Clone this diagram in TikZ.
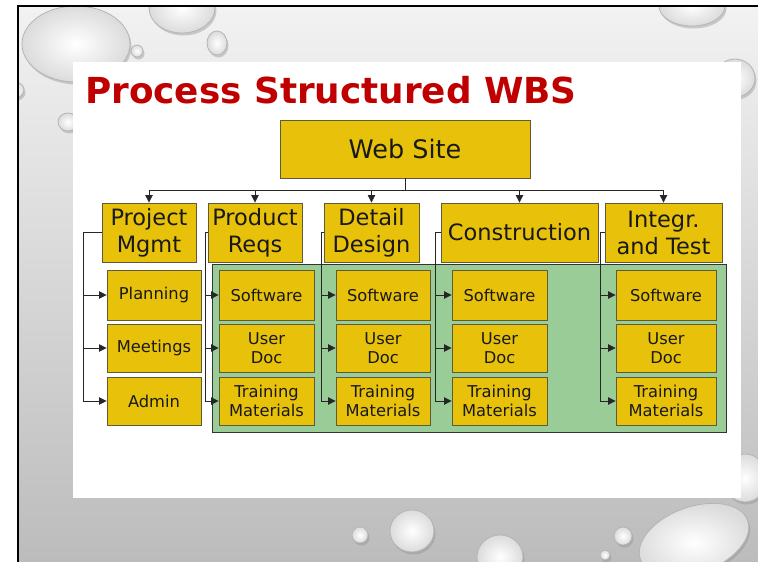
\documentclass[tikz,border=0pt]{standalone}
\usepackage{fontspec}
\setmainfont{DejaVu Sans}
\usetikzlibrary{arrows.meta}
\definecolor{boxyellow}{RGB}{232,194,10}
\definecolor{boxedge}{RGB}{95,90,55}
\definecolor{greenfill}{RGB}{154,204,152}
\definecolor{titlered}{RGB}{192,0,0}
\definecolor{bgtop}{RGB}{242,242,242}
\definecolor{bgbot}{RGB}{188,188,188}
\newcommand\dropat[5][0]{%
  \fill[black!45, opacity=0.4, shift={(#2+1.5,#3+2.5)}, rotate=#1] (0,0) ellipse [x radius=#4, y radius=#5];
  \shade[drop, shift={(#2,#3)}, rotate=#1] (0,0) ellipse [x radius=#4, y radius=#5];
}
\begin{document}
\begin{tikzpicture}[x=1pt,y=-1pt,
  drop/.style={inner color=white, outer color=gray!28, draw=gray!58, line width=0.8pt},
  box/.style={draw=boxedge, line width=0.9pt, fill=boxyellow, inner sep=0pt, align=center, text=black!90},
  l2/.style={box, font=\fontsize{22.5}{27}\selectfont, minimum height=59pt},
  l3/.style={box, font=\fontsize{16.3}{19}\selectfont},
  conn/.style={draw=black!85, line width=0.8pt},
  arr/.style={conn, -{Triangle[length=7.5pt,width=7.5pt]}}]
\useasboundingbox (0,0) rectangle (758,562);
% background
\fill[white] (0,0) rectangle (758,562);
\shade[top color=bgtop, bottom color=bgbot] (18,6) rectangle (758,562);
\begin{scope}
  \clip (18,6) rectangle (758,562);
  \dropat{76}{44}{54}{38}
  \dropat{182}{8}{33}{25}
  \dropat{217}{43}{10}{12}
  \dropat{137}{51}{6}{6}
  \dropat{15}{90}{9}{8}
  \dropat{68}{122}{10}{9}
  \dropat{692}{6}{33}{20}
  \dropat{735}{78}{20}{19}
  \dropat{745}{478}{22}{24}
  \dropat[20]{694}{540}{57}{33}
  \dropat{623}{536}{9}{9}
  \dropat{605}{555}{5}{5}
  \dropat{360}{535}{8}{8}
  \dropat{412}{531}{22}{21}
  \dropat{500}{557}{23}{22}
\end{scope}
\draw[line width=1.5pt] (18,562) -- (18,6) -- (758,6);
% slide panel
\fill[white] (73,62) rectangle (741,498);
% title
\node[anchor=base west, text=titlered, font=\fontsize{35.8}{40}\selectfont\bfseries, inner sep=0pt] (title) at (85,103) {Process Structured WBS};
% top node
\node[box, minimum width=250pt, minimum height=58pt, font=\fontsize{25.5}{30}\selectfont] (ws) at (405,149) {Web Site};
% level 2
\node[l2, minimum width=94pt] (pm) at (149,232.5) {Project\\Mgmt};
\node[l2, minimum width=94pt] (pr) at (255,232.5) {Product\\Reqs};
\node[l2, minimum width=95pt] (dd) at (371.5,232.5) {Detail\\Design};
\node[l2, minimum width=157pt] (co) at (519.5,232.5) {Construction};
\node[l2, minimum width=117pt] (it) at (663.5,232.5) {Integr.\\and Test};
% green area
\node[draw=black!80, fill=greenfill, line width=0.9pt, minimum width=514pt, minimum height=168pt, inner sep=0pt] (green) at (469,348) {};
% level 3
\node[l3, minimum width=94pt, minimum height=50pt] (pma) at (154,295) {Planning};
\node[l3, minimum width=94pt, minimum height=48pt] (pmb) at (154,348) {Meetings};
\node[l3, minimum width=94pt, minimum height=48pt] (pmc) at (154,401) {Admin};
\foreach \c/\x/\w in {pr/266.5/95, dd/383/94, co/499.5/95, it/666/100}{
  \node[l3, minimum width=\w pt, minimum height=50pt] (\c a) at (\x,295) {Software};
  \node[l3, minimum width=\w pt, minimum height=48pt] (\c b) at (\x,348) {User\\Doc};
  \node[l3, minimum width=\w pt, minimum height=48pt] (\c c) at (\x,401) {Training\\Materials};
}
% connectors
\draw[conn] (ws.south) -- ++(0,12) coordinate (bus);
\foreach \n in {pm,pr,dd,co,it} \draw[arr] (bus) -| (\n.north);
\foreach \p/\o in {pm/18, pr/2, dd/2, co/5, it/4}{
  \draw[arr] (\p.west) -- ++(-\o,0) |- (\p a.west);
  \draw[arr] (\p.west) -- ++(-\o,0) |- (\p b.west);
  \draw[arr] (\p.west) -- ++(-\o,0) |- (\p c.west);
}
\end{tikzpicture}
\end{document}
